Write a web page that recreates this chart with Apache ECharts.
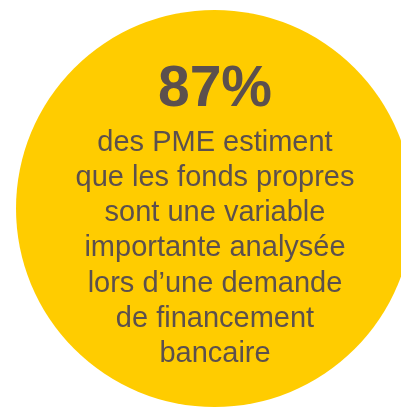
<!DOCTYPE html>
<html>
<head>
<meta charset="utf-8">
<script src="https://cdn.jsdelivr.net/npm/echarts@6/dist/echarts.min.js"></script>
<style>html,body{margin:0;padding:0;background:#fff}#c{width:401px;height:408px}</style>
</head>
<body>
<div id="c"></div>
<script>
const shareValue = 87;
const shareLabel = ['87%'];
const bodyLines = [
  'des PME estiment',
  'que les fonds propres',
  'sont une variable',
  'importante analysée',
  'lors d\u2019une demande',
  'de financement',
  'bancaire'
];

const chart = echarts.init(document.getElementById('c'), null, {renderer: 'canvas'});
const textColor = '#5C504D';
const font = '"Liberation Sans", Arial, sans-serif';
const cx = 215, bigBase = 109, firstBase = 152, lineStep = 35.2, bodySize = 29;

const graphics = [{
  type: 'text', x: cx, y: bigBase - 0.32 * 57, z: 100,
  style: {text: shareLabel[0], fill: textColor, font: 'bold 57px ' + font, align: 'center', verticalAlign: 'middle'}
}];
bodyLines.forEach((t, i) => {
  graphics.push({
    type: 'text', x: cx, y: firstBase + i * lineStep - 0.32 * bodySize, z: 100,
    style: {text: t, fill: textColor, font: bodySize + 'px ' + font, align: 'center', verticalAlign: 'middle'}
  });
});

chart.setOption({
  animation: false,
  series: [{
    type: 'pie',
    center: [214.5, 208.5],
    radius: [0, 198.5],
    silent: true,
    z: 1,
    label: {show: false},
    labelLine: {show: false},
    itemStyle: {color: '#FFCC00', borderWidth: 0},
    data: [{value: shareValue, name: 'PME'}]
  }],
  graphic: {elements: graphics}
});
</script>
</body>
</html>
